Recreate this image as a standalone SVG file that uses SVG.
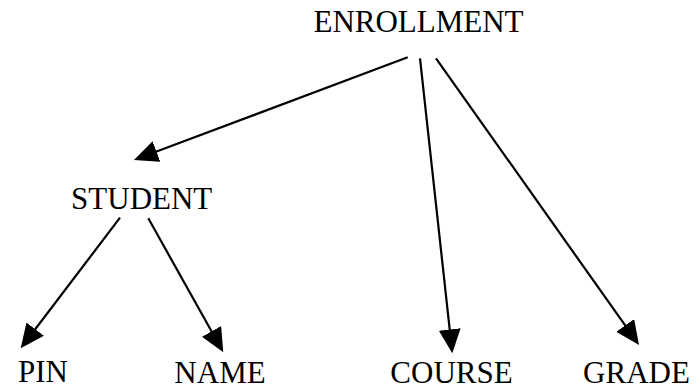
<svg xmlns="http://www.w3.org/2000/svg" width="700" height="388" viewBox="0 0 700 388">
<style>
text{font-family:"Liberation Serif","Times New Roman",serif;font-size:31px;fill:#000;text-anchor:middle}
.c line{stroke:#000;stroke-width:2.2;marker-end:url(#ah)}
</style>
<defs>
<marker id="ah" viewBox="0 0 24 22" refX="12" refY="11" markerWidth="24" markerHeight="22" markerUnits="userSpaceOnUse" orient="auto">
<path d="M0,0 L24,11 L0,22 Z" fill="#000"/>
</marker>
</defs>
<rect width="700" height="388" fill="#fff"/>
<g class="c" id="connectors">
<line x1="407.7" y1="57.3" x2="145.2" y2="155.8"/>
<line x1="420" y1="58.3" x2="451" y2="341.4"/>
<line x1="436" y1="58.3" x2="632.1" y2="335.2"/>
<line x1="120" y1="217.7" x2="27.96" y2="338.75"/>
<line x1="148.3" y1="218.3" x2="217.4" y2="341.8"/>
</g>
<g id="enrollment"><text x="418.5" y="32">ENROLLMENT</text></g>
<g id="student"><text x="141.7" y="209">STUDENT</text></g>
<g id="pin"><text x="43" y="382">PIN</text></g>
<g id="name"><text x="220" y="382.5">NAME</text></g>
<g id="course"><text x="451.5" y="382.5">COURSE</text></g>
<g id="grade"><text x="636.5" y="382.5">GRADE</text></g>
</svg>
